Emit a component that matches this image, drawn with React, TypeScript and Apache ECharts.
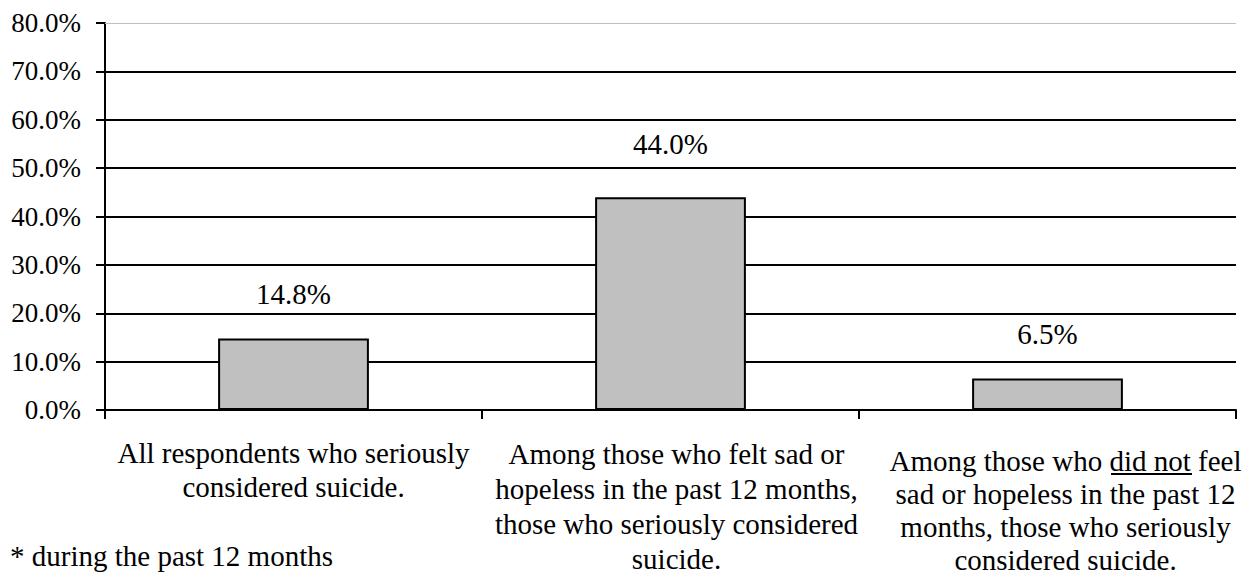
import React, { useEffect, useRef } from "react";
import * as echarts from "echarts";

const categories = [
  "All respondents who seriously\nconsidered suicide.",
  "Among those who felt sad or\nhopeless in the past 12 months,\nthose who seriously considered\nsuicide.",
  "Among those who did not feel\nsad or hopeless in the past 12\nmonths, those who seriously\nconsidered suicide.",
];
const values = [14.8, 44.0, 6.5];
const yTicks = [0, 10, 20, 30, 40, 50, 60, 70, 80];
const footnote = "* during the past 12 months";

const FONT = "Liberation Serif";

export default function App() {
  const ref = useRef<HTMLDivElement>(null);
  useEffect(() => {
    if (!ref.current) return;
    const chart = echarts.init(ref.current, undefined, { renderer: "svg" });
    const labelDist = [30, 39, 30];
    const catStyles = [
      { lineHeight: 34, padding: [0, 0, 0, 0] },
      { lineHeight: 35, padding: [0, 0, 0, 12] },
      { lineHeight: 33, padding: [8, 0, 0, 36] },
    ];
    chart.setOption({
      animation: false,
      backgroundColor: "#ffffff",
      textStyle: { fontFamily: FONT },
      grid: {
        left: 105,
        right: 21,
        top: 23,
        bottom: 167,
        containLabel: false,
        outerBoundsMode: "none",
      },
      xAxis: {
        type: "category",
        data: categories.map((c, i) => ({ value: c, textStyle: catStyles[i] })),
        axisLine: { show: true, lineStyle: { color: "#000", width: 2 } },
        axisTick: {
          show: true,
          inside: false,
          length: 9,
          alignWithLabel: false,
          lineStyle: { color: "#000", width: 2 },
        },
        axisLabel: {
          interval: 0,
          margin: 26,
          fontFamily: FONT,
          fontSize: 29,
          lineHeight: 34,
          color: "#000",
          align: "center",
          verticalAlign: "top",
          hideOverlap: false,
        },
        splitLine: { show: false },
      },
      yAxis: {
        type: "value",
        min: yTicks[0],
        max: yTicks[yTicks.length - 1],
        interval: 10,
        axisLine: { show: true, lineStyle: { color: "#000", width: 2 } },
        axisTick: { show: true, length: 9, lineStyle: { color: "#000", width: 2 } },
        axisLabel: {
          margin: 24,
          fontFamily: FONT,
          fontSize: 27,
          color: "#000",
          formatter: (v: number) => v.toFixed(1) + "%",
        },
        splitLine: {
          show: true,
          lineStyle: {
            color: ["#000", "#000", "#000", "#000", "#000", "#000", "#000", "#000", "transparent"],
            width: 2,
          },
        },
      },
      series: [
        {
          type: "bar",
          barWidth: "40%",
          data: values.map((v, i) => ({
            value: v,
            label: { distance: labelDist[i] },
          })),
          itemStyle: { color: "#c0c0c0", borderColor: "#000", borderWidth: 2 },
          label: {
            show: true,
            position: "top",
            fontFamily: FONT,
            fontSize: 29,
            color: "#000",
            formatter: (p: any) => Number(p.value).toFixed(1) + "%",
          },
          markLine: {
            silent: true,
            symbol: "none",
            label: { show: false },
            lineStyle: { color: "#c0c0c0", width: 1, type: "solid" },
            data: [{ yAxis: yTicks[yTicks.length - 1] }],
          },
        },
      ],
      graphic: [
        {
          type: "text",
          left: 10,
          top: 541,
          style: { text: footnote, font: `29px ${FONT}`, fill: "#000" },
        },
        {
          type: "line",
          shape: { x1: 1111, y1: 474, x2: 1192, y2: 474 },
          style: { stroke: "#000", lineWidth: 2 },
        },
      ],
    });
    return () => chart.dispose();
  }, []);
  return (
    <div
      ref={ref}
      style={{ position: "fixed", left: 0, top: 0, width: 1257, height: 577 }}
    />
  );
}
